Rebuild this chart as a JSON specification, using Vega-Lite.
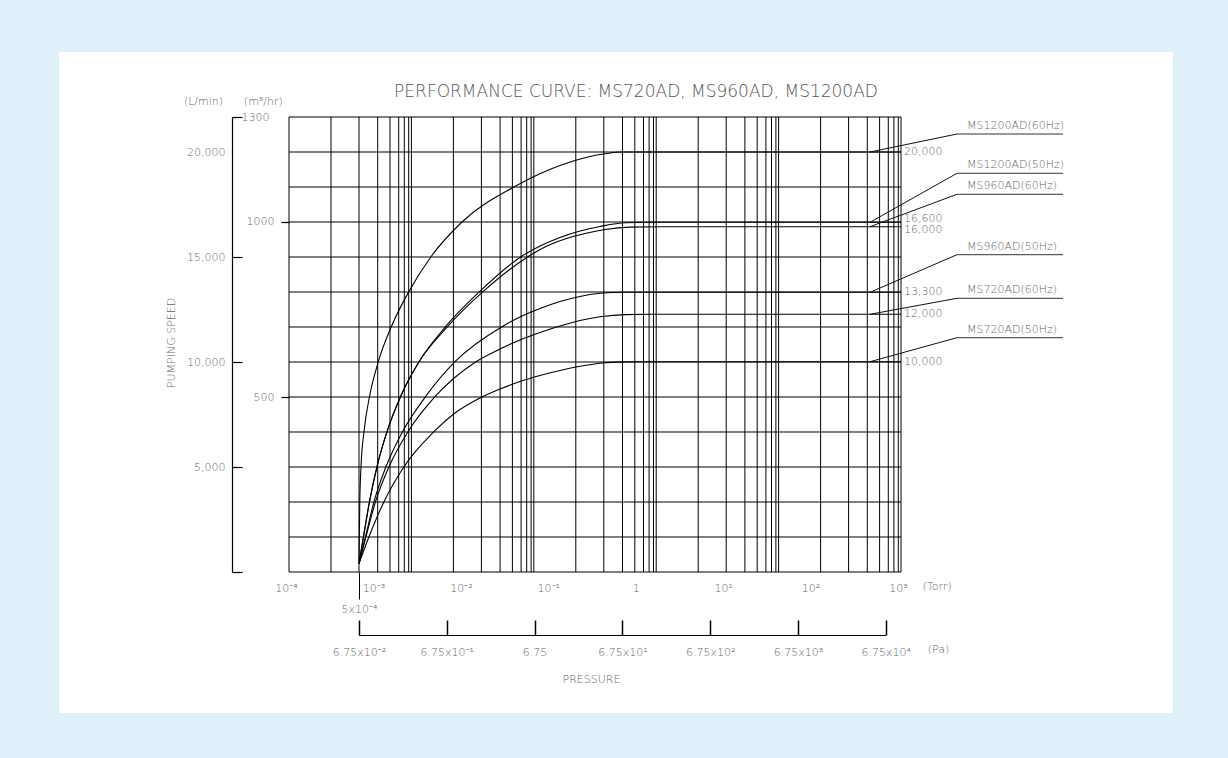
{
  "$schema": "https://vega.github.io/schema/vega-lite/v6.json",
  "width": 1114,
  "height": 661,
  "autosize": {"type": "none"},
  "padding": {"left": 59, "top": 52, "right": 55, "bottom": 45},
  "background": "#DFF0FA",
  "title": {"text": "PERFORMANCE CURVE: MS720AD, MS960AD, MS1200AD", "anchor": "middle", "frame": "group", "offset": 0, "dx": 20, "dy": 57, "baseline": "middle", "fontSize": 17, "font": "DejaVu Sans", "fontWeight": 200, "color": "#555555"},
  "config": {
    "view": {"fill": "white", "stroke": null},
    "font": "DejaVu Sans",
    "axis": {"labelFont": "DejaVu Sans", "labelFontSize": 11, "labelColor": "#666666", "labelFontWeight": 200, "titleFont": "DejaVu Sans", "titleFontSize": 11, "titleFontWeight": 200, "titleColor": "#666666", "domainColor": "#000000", "tickColor": "#000000", "grid": false, "labelOverlap": false, "labelFlush": false, "labelBound": false},
    "text": {"font": "DejaVu Sans", "fontSize": 11, "fontWeight": 200, "fill": "#666666"}
  },
  "datasets": {
    "gridH": [{"lpm": 0}, {"lpm": 1666.67}, {"lpm": 3333.33}, {"lpm": 5000}, {"lpm": 6666.67}, {"lpm": 8333.33}, {"lpm": 10000}, {"lpm": 11666.67}, {"lpm": 13333.33}, {"lpm": 15000}, {"lpm": 16666.67}, {"lpm": 18333.33}, {"lpm": 20000}, {"lpm": 21666.67}],
    "gridV": [
      {"logTorr": -4}, {"logTorr": -3.5196}, {"logTorr": -3.1993}, {"logTorr": -2.9855}, {"logTorr": -2.8448}, {"logTorr": -2.7453}, {"logTorr": -2.6812}, {"logTorr": -2.6309},
      {"logTorr": -2.6}, {"logTorr": -2.1196}, {"logTorr": -1.7993}, {"logTorr": -1.5855}, {"logTorr": -1.4448}, {"logTorr": -1.3453}, {"logTorr": -1.2812}, {"logTorr": -1.2309},
      {"logTorr": -1.2}, {"logTorr": -0.7196}, {"logTorr": -0.3993}, {"logTorr": -0.1855}, {"logTorr": -0.0448}, {"logTorr": 0.0547}, {"logTorr": 0.1188}, {"logTorr": 0.1691},
      {"logTorr": 0.2}, {"logTorr": 0.6804}, {"logTorr": 1.0007}, {"logTorr": 1.2145}, {"logTorr": 1.3552}, {"logTorr": 1.4547}, {"logTorr": 1.5188}, {"logTorr": 1.5691},
      {"logTorr": 1.6}, {"logTorr": 2.0804}, {"logTorr": 2.4007}, {"logTorr": 2.6145}, {"logTorr": 2.7552}, {"logTorr": 2.8547}, {"logTorr": 2.9188}, {"logTorr": 2.9691},
      {"logTorr": 3}
    ],
    "series": [
      {"series": "MS1200AD(60Hz)", "plateau": 20000, "valueLabel": "20,000", "legendY": 20857},
      {"series": "MS1200AD(50Hz)", "plateau": 16652, "valueLabel": "16,600", "legendY": 18986},
      {"series": "MS960AD(60Hz)", "plateau": 16443, "valueLabel": "16,000", "legendY": 17986},
      {"series": "MS960AD(50Hz)", "plateau": 13319, "valueLabel": "13,300", "legendY": 15110},
      {"series": "MS720AD(60Hz)", "plateau": 12271, "valueLabel": "12,000", "legendY": 13033},
      {"series": "MS720AD(50Hz)", "plateau": 10014, "valueLabel": "10,000", "legendY": 11157}
    ],
    "curves": [
      {"series": "MS1200AD(60Hz)", "logTorr": -3.1993, "lpm": 405},
      {"series": "MS1200AD(60Hz)", "logTorr": -3.1959, "lpm": 1681},
      {"series": "MS1200AD(60Hz)", "logTorr": -3.1902, "lpm": 3348},
      {"series": "MS1200AD(60Hz)", "logTorr": -3.1765, "lpm": 5014},
      {"series": "MS1200AD(60Hz)", "logTorr": -3.1422, "lpm": 6681},
      {"series": "MS1200AD(60Hz)", "logTorr": -3.0793, "lpm": 8348},
      {"series": "MS1200AD(60Hz)", "logTorr": -2.9786, "lpm": 10014},
      {"series": "MS1200AD(60Hz)", "logTorr": -2.8299, "lpm": 11681},
      {"series": "MS1200AD(60Hz)", "logTorr": -2.6297, "lpm": 13348},
      {"series": "MS1200AD(60Hz)", "logTorr": -2.3758, "lpm": 15014},
      {"series": "MS1200AD(60Hz)", "logTorr": -2.0212, "lpm": 16667},
      {"series": "MS1200AD(60Hz)", "logTorr": -1.4265, "lpm": 18333},
      {"series": "MS1200AD(60Hz)", "logTorr": -1.2435, "lpm": 18738},
      {"series": "MS1200AD(60Hz)", "logTorr": -1.0719, "lpm": 19071},
      {"series": "MS1200AD(60Hz)", "logTorr": -0.9003, "lpm": 19357},
      {"series": "MS1200AD(60Hz)", "logTorr": -0.7288, "lpm": 19595},
      {"series": "MS1200AD(60Hz)", "logTorr": -0.5572, "lpm": 19786},
      {"series": "MS1200AD(60Hz)", "logTorr": -0.3856, "lpm": 19914},
      {"series": "MS1200AD(60Hz)", "logTorr": -0.1912, "lpm": 20000},
      {"series": "MS1200AD(60Hz)", "logTorr": 3, "lpm": 20000},
      {"series": "MS1200AD(50Hz)", "logTorr": -3.1993, "lpm": 405},
      {"series": "MS1200AD(50Hz)", "logTorr": -3.1479, "lpm": 1681},
      {"series": "MS1200AD(50Hz)", "logTorr": -3.0793, "lpm": 3348},
      {"series": "MS1200AD(50Hz)", "logTorr": -2.9935, "lpm": 5014},
      {"series": "MS1200AD(50Hz)", "logTorr": -2.8791, "lpm": 6681},
      {"series": "MS1200AD(50Hz)", "logTorr": -2.7247, "lpm": 8348},
      {"series": "MS1200AD(50Hz)", "logTorr": -2.5131, "lpm": 10014},
      {"series": "MS1200AD(50Hz)", "logTorr": -2.21, "lpm": 11681},
      {"series": "MS1200AD(50Hz)", "logTorr": -1.8211, "lpm": 13348},
      {"series": "MS1200AD(50Hz)", "logTorr": -1.3464, "lpm": 15014},
      {"series": "MS1200AD(50Hz)", "logTorr": -1.1291, "lpm": 15524},
      {"series": "MS1200AD(50Hz)", "logTorr": -0.9003, "lpm": 15929},
      {"series": "MS1200AD(50Hz)", "logTorr": -0.6716, "lpm": 16238},
      {"series": "MS1200AD(50Hz)", "logTorr": -0.4428, "lpm": 16452},
      {"series": "MS1200AD(50Hz)", "logTorr": -0.1569, "lpm": 16629},
      {"series": "MS1200AD(50Hz)", "logTorr": 0.1291, "lpm": 16652},
      {"series": "MS1200AD(50Hz)", "logTorr": 3, "lpm": 16652},
      {"series": "MS960AD(60Hz)", "logTorr": -3.1993, "lpm": 405},
      {"series": "MS960AD(60Hz)", "logTorr": -3.1479, "lpm": 1681},
      {"series": "MS960AD(60Hz)", "logTorr": -3.0793, "lpm": 3348},
      {"series": "MS960AD(60Hz)", "logTorr": -2.9935, "lpm": 5014},
      {"series": "MS960AD(60Hz)", "logTorr": -2.8791, "lpm": 6681},
      {"series": "MS960AD(60Hz)", "logTorr": -2.7247, "lpm": 8348},
      {"series": "MS960AD(60Hz)", "logTorr": -2.5131, "lpm": 10014},
      {"series": "MS960AD(60Hz)", "logTorr": -2.1871, "lpm": 11681},
      {"series": "MS960AD(60Hz)", "logTorr": -1.7811, "lpm": 13348},
      {"series": "MS960AD(60Hz)", "logTorr": -1.2663, "lpm": 15014},
      {"series": "MS960AD(60Hz)", "logTorr": -1.0719, "lpm": 15476},
      {"series": "MS960AD(60Hz)", "logTorr": -0.8431, "lpm": 15857},
      {"series": "MS960AD(60Hz)", "logTorr": -0.6144, "lpm": 16119},
      {"series": "MS960AD(60Hz)", "logTorr": -0.3856, "lpm": 16310},
      {"series": "MS960AD(60Hz)", "logTorr": -0.0997, "lpm": 16424},
      {"series": "MS960AD(60Hz)", "logTorr": 0.2435, "lpm": 16443},
      {"series": "MS960AD(60Hz)", "logTorr": 3, "lpm": 16443},
      {"series": "MS960AD(50Hz)", "logTorr": -3.1993, "lpm": 405},
      {"series": "MS960AD(50Hz)", "logTorr": -3.125, "lpm": 1681},
      {"series": "MS960AD(50Hz)", "logTorr": -3.0278, "lpm": 3348},
      {"series": "MS960AD(50Hz)", "logTorr": -2.8905, "lpm": 5014},
      {"series": "MS960AD(50Hz)", "logTorr": -2.7018, "lpm": 6681},
      {"series": "MS960AD(50Hz)", "logTorr": -2.4387, "lpm": 8348},
      {"series": "MS960AD(50Hz)", "logTorr": -2.1013, "lpm": 10014},
      {"series": "MS960AD(50Hz)", "logTorr": -1.5637, "lpm": 11681},
      {"series": "MS960AD(50Hz)", "logTorr": -1.3578, "lpm": 12143},
      {"series": "MS960AD(50Hz)", "logTorr": -1.1291, "lpm": 12548},
      {"series": "MS960AD(50Hz)", "logTorr": -0.9003, "lpm": 12881},
      {"series": "MS960AD(50Hz)", "logTorr": -0.6716, "lpm": 13119},
      {"series": "MS960AD(50Hz)", "logTorr": -0.4428, "lpm": 13271},
      {"series": "MS960AD(50Hz)", "logTorr": -0.1569, "lpm": 13319},
      {"series": "MS960AD(50Hz)", "logTorr": 3, "lpm": 13319},
      {"series": "MS720AD(60Hz)", "logTorr": -3.1993, "lpm": 405},
      {"series": "MS720AD(60Hz)", "logTorr": -3.1193, "lpm": 1681},
      {"series": "MS720AD(60Hz)", "logTorr": -3.0106, "lpm": 3348},
      {"series": "MS720AD(60Hz)", "logTorr": -2.8562, "lpm": 5014},
      {"series": "MS720AD(60Hz)", "logTorr": -2.6389, "lpm": 6681},
      {"series": "MS720AD(60Hz)", "logTorr": -2.3301, "lpm": 8348},
      {"series": "MS720AD(60Hz)", "logTorr": -1.8611, "lpm": 10014},
      {"series": "MS720AD(60Hz)", "logTorr": -1.5866, "lpm": 10619},
      {"series": "MS720AD(60Hz)", "logTorr": -1.3578, "lpm": 11048},
      {"series": "MS720AD(60Hz)", "logTorr": -1.1291, "lpm": 11405},
      {"series": "MS720AD(60Hz)", "logTorr": -0.9003, "lpm": 11714},
      {"series": "MS720AD(60Hz)", "logTorr": -0.6716, "lpm": 11976},
      {"series": "MS720AD(60Hz)", "logTorr": -0.4428, "lpm": 12152},
      {"series": "MS720AD(60Hz)", "logTorr": -0.1569, "lpm": 12257},
      {"series": "MS720AD(60Hz)", "logTorr": 0.1291, "lpm": 12271},
      {"series": "MS720AD(60Hz)", "logTorr": 3, "lpm": 12271},
      {"series": "MS720AD(50Hz)", "logTorr": -3.1993, "lpm": 405},
      {"series": "MS720AD(50Hz)", "logTorr": -3.085, "lpm": 1681},
      {"series": "MS720AD(50Hz)", "logTorr": -2.9134, "lpm": 3348},
      {"series": "MS720AD(50Hz)", "logTorr": -2.6846, "lpm": 5014},
      {"series": "MS720AD(50Hz)", "logTorr": -2.3415, "lpm": 6681},
      {"series": "MS720AD(50Hz)", "logTorr": -2.1013, "lpm": 7571},
      {"series": "MS720AD(50Hz)", "logTorr": -1.8154, "lpm": 8286},
      {"series": "MS720AD(50Hz)", "logTorr": -1.5866, "lpm": 8714},
      {"series": "MS720AD(50Hz)", "logTorr": -1.3578, "lpm": 9071},
      {"series": "MS720AD(50Hz)", "logTorr": -1.1291, "lpm": 9357},
      {"series": "MS720AD(50Hz)", "logTorr": -0.9003, "lpm": 9595},
      {"series": "MS720AD(50Hz)", "logTorr": -0.6716, "lpm": 9795},
      {"series": "MS720AD(50Hz)", "logTorr": -0.4428, "lpm": 9943},
      {"series": "MS720AD(50Hz)", "logTorr": -0.1569, "lpm": 10005},
      {"series": "MS720AD(50Hz)", "logTorr": 0.1291, "lpm": 10014},
      {"series": "MS720AD(50Hz)", "logTorr": 3, "lpm": 10014}
    ],
    "torrTicks": [{"logTorr": -4}, {"logTorr": -3}, {"logTorr": -2}, {"logTorr": -1}, {"logTorr": 0}, {"logTorr": 1}, {"logTorr": 2}, {"logTorr": 3}],
    "paTicks": [{"pa": 0.0675}, {"pa": 0.675}, {"pa": 6.75}, {"pa": 67.5}, {"pa": 675}, {"pa": 6750}, {"pa": 67500}]
  },
  "resolve": {"scale": {"x": "independent"}, "axis": {"x": "independent", "y": "independent"}},
  "layer": [
    {
      "data": {"name": "gridH"},
      "mark": {"type": "rule", "color": "#000000", "strokeWidth": 1},
      "encoding": {
        "x": {"datum": -4, "type": "quantitative", "scale": {"domain": [-4, 3], "range": [230, 842], "nice": false, "zero": false}, "axis": null},
        "x2": {"datum": 3},
        "y": {"field": "lpm", "type": "quantitative", "scale": {"domain": [0, 21666.67], "range": [520, 65], "nice": false, "zero": false}, "axis": null}
      }
    },
    {
      "data": {"name": "gridV"},
      "mark": {"type": "rule", "color": "#000000", "strokeWidth": 1},
      "encoding": {
        "x": {"field": "logTorr", "type": "quantitative", "scale": {"domain": [-4, 3], "range": [230, 842], "nice": false, "zero": false}, "axis": null},
        "y": {"datum": 0, "type": "quantitative", "scale": {"domain": [0, 21666.67], "range": [520, 65], "nice": false, "zero": false}, "axis": null},
        "y2": {"datum": 21666.67}
      }
    },
    {
      "data": {"name": "curves"},
      "mark": {"type": "line", "interpolate": "monotone", "color": "#000000", "strokeWidth": 1.1},
      "encoding": {
        "x": {"field": "logTorr", "type": "quantitative", "scale": {"domain": [-4, 3], "range": [230, 842], "nice": false, "zero": false}, "axis": null},
        "y": {"field": "lpm", "type": "quantitative", "scale": {"domain": [0, 21666.67], "range": [520, 65], "nice": false, "zero": false}, "axis": null},
        "detail": {"field": "series"}
      }
    },
    {
      "data": {"name": "series"},
      "transform": [{"filter": "datum.valueLabel != '16,600' && datum.valueLabel != '16,000'"}],
      "mark": {"type": "text", "align": "left", "baseline": "middle", "dx": 3},
      "encoding": {
        "x": {"datum": 3, "type": "quantitative", "scale": {"domain": [-4, 3], "range": [230, 842], "nice": false, "zero": false}, "axis": null},
        "y": {"field": "plateau", "type": "quantitative", "scale": {"domain": [0, 21666.67], "range": [520, 65], "nice": false, "zero": false}, "axis": null},
        "text": {"field": "valueLabel"}
      }
    },
    {
      "data": {"name": "series"},
      "transform": [{"filter": "datum.valueLabel == '16,600'"}],
      "mark": {"type": "text", "align": "left", "baseline": "middle", "dx": 3, "dy": -3.5},
      "encoding": {
        "x": {"datum": 3, "type": "quantitative", "scale": {"domain": [-4, 3], "range": [230, 842], "nice": false, "zero": false}, "axis": null},
        "y": {"field": "plateau", "type": "quantitative", "scale": {"domain": [0, 21666.67], "range": [520, 65], "nice": false, "zero": false}, "axis": null},
        "text": {"field": "valueLabel"}
      }
    },
    {
      "data": {"name": "series"},
      "transform": [{"filter": "datum.valueLabel == '16,000'"}],
      "mark": {"type": "text", "align": "left", "baseline": "middle", "dx": 3, "dy": 3.5},
      "encoding": {
        "x": {"datum": 3, "type": "quantitative", "scale": {"domain": [-4, 3], "range": [230, 842], "nice": false, "zero": false}, "axis": null},
        "y": {"field": "plateau", "type": "quantitative", "scale": {"domain": [0, 21666.67], "range": [520, 65], "nice": false, "zero": false}, "axis": null},
        "text": {"field": "valueLabel"}
      }
    },
    {
      "data": {"name": "series"},
      "mark": {"type": "rule", "color": "#111111", "strokeWidth": 1},
      "encoding": {
        "x": {"datum": 2.6454, "type": "quantitative", "scale": {"domain": [-4, 3], "range": [230, 842], "nice": false, "zero": false}, "axis": null},
        "x2": {"datum": 3.6405},
        "y": {"field": "plateau", "type": "quantitative", "scale": {"domain": [0, 21666.67], "range": [520, 65], "nice": false, "zero": false}, "axis": null},
        "y2": {"field": "legendY"}
      }
    },
    {
      "data": {"name": "series"},
      "mark": {"type": "rule", "color": "#333333", "strokeWidth": 1},
      "encoding": {
        "x": {"datum": 3.6405, "type": "quantitative", "scale": {"domain": [-4, 3], "range": [230, 842], "nice": false, "zero": false}, "axis": null},
        "x2": {"datum": 4.8529},
        "y": {"field": "legendY", "type": "quantitative", "scale": {"domain": [0, 21666.67], "range": [520, 65], "nice": false, "zero": false}, "axis": null}
      }
    },
    {
      "data": {"name": "series"},
      "mark": {"type": "text", "align": "left", "baseline": "middle", "dy": -8},
      "encoding": {
        "x": {"datum": 3.7549, "type": "quantitative", "scale": {"domain": [-4, 3], "range": [230, 842], "nice": false, "zero": false}, "axis": null},
        "y": {"field": "legendY", "type": "quantitative", "scale": {"domain": [0, 21666.67], "range": [520, 65], "nice": false, "zero": false}, "axis": null},
        "text": {"field": "series"}
      }
    },
    {
      "data": {"name": "torrTicks"},
      "mark": {"type": "point", "opacity": 0},
      "encoding": {
        "x": {"field": "logTorr", "type": "quantitative", "scale": {"domain": [-4, 3], "range": [230, 842], "nice": false, "zero": false},
          "axis": {"orient": "bottom", "offset": -141, "values": [-4, -3, -2, -1, 0, 1, 2, 3], "domain": false, "ticks": false, "tickSize": 0, "labelPadding": 16, "labelBaseline": "middle", "labelOffset": -3,
            "labelExpr": "['10⁻⁴','10⁻³','10⁻²','10⁻¹','1','10¹','10²','10³'][round(datum.value)+4]",
            "title": "(Torr)", "titleX": 877.7, "titleY": 14, "titleAlign": "center", "titleBaseline": "middle", "titleAngle": 0}}
      }
    },
    {
      "data": {"name": "torrTicks"},
      "mark": {"type": "point", "opacity": 0},
      "encoding": {
        "x": {"field": "logTorr", "type": "quantitative", "scale": {"domain": [-4, 3], "range": [230, 842], "nice": false, "zero": false},
          "axis": {"orient": "bottom", "offset": -141, "values": [-3.1993], "domain": false, "ticks": true, "tickSize": 27, "tickWidth": 1, "labelPadding": 10, "labelBaseline": "middle",
            "labelExpr": "'5x10⁻⁴'",
            "title": "PRESSURE", "titleX": 532, "titleY": 107, "titleAlign": "center", "titleBaseline": "middle", "titleAngle": 0}}
      }
    },
    {
      "data": {"name": "paTicks"},
      "mark": {"type": "point", "opacity": 0},
      "encoding": {
        "x": {"field": "pa", "type": "quantitative", "scale": {"type": "log", "domain": [0.0675, 67500], "range": [300, 826.7], "nice": false, "zero": false},
          "axis": {"orient": "top", "offset": -583, "values": [0.0675, 0.675, 6.75, 67.5, 675, 6750, 67500], "domain": true, "domainWidth": 1, "ticks": true, "tickSize": 15, "tickWidth": 1.5, "labels": false, "title": null}}
      }
    },
    {
      "data": {"name": "paTicks"},
      "mark": {"type": "point", "opacity": 0},
      "encoding": {
        "x": {"field": "pa", "type": "quantitative", "scale": {"type": "log", "domain": [0.0675, 67500], "range": [300, 826.7], "nice": false, "zero": false},
          "axis": {"orient": "bottom", "offset": -78, "values": [0.0675, 0.675, 6.75, 67.5, 675, 6750, 67500], "domain": false, "ticks": false, "tickSize": 0, "labelPadding": 17, "labelBaseline": "middle",
            "labelExpr": "datum.value < 0.1 ? '6.75x10⁻²' : datum.value < 1 ? '6.75x10⁻¹' : datum.value < 10 ? '6.75' : datum.value < 100 ? '6.75x10¹' : datum.value < 1000 ? '6.75x10²' : datum.value < 10000 ? '6.75x10³' : '6.75x10⁴'",
            "title": "(Pa)", "titleX": 879, "titleY": 14.3, "titleAlign": "center", "titleBaseline": "middle", "titleAngle": 0}}
      }
    },
    {
      "data": {"name": "series"},
      "mark": {"type": "point", "opacity": 0},
      "encoding": {
        "y": {"field": "plateau", "type": "quantitative", "scale": {"domain": [0, 21666.67], "range": [520, 65], "nice": false, "zero": false},
          "axis": {"orient": "right", "offset": -941, "values": [0, 5000, 10000, 15000, 21666.67], "domain": true, "domainWidth": 1.2, "ticks": true, "tickSize": 10, "tickWidth": 1.2, "labelPadding": -1, "labelBaseline": "middle",
            "labelExpr": "datum.value > 21000 ? '1300' : ''",
            "title": "PUMPING SPEED", "titleX": -60.3, "titleY": 290.5, "titleAngle": 270, "titleAlign": "center", "titleBaseline": "middle"}}
      }
    },
    {
      "data": {"name": "series"},
      "mark": {"type": "point", "opacity": 0},
      "encoding": {
        "y": {"field": "plateau", "type": "quantitative", "scale": {"domain": [0, 21666.67], "range": [520, 65], "nice": false, "zero": false},
          "axis": {"orient": "left", "offset": -173, "values": [5000, 10000, 15000, 20000], "domain": false, "ticks": false, "tickSize": 0, "labelPadding": 7, "labelBaseline": "middle",
            "labelExpr": "format(datum.value, ',')",
            "title": "(L/min)", "titleX": -29, "titleY": 49.7, "titleAngle": 0, "titleAlign": "center", "titleBaseline": "middle"}}
      }
    },
    {
      "data": {"name": "series"},
      "mark": {"type": "point", "opacity": 0},
      "encoding": {
        "y": {"field": "plateau", "type": "quantitative", "scale": {"domain": [0, 21666.67], "range": [520, 65], "nice": false, "zero": false},
          "axis": {"orient": "left", "offset": -230, "values": [8333.33, 16666.67], "domain": false, "ticks": true, "tickSize": 8, "tickWidth": 1.2, "labelPadding": 7, "labelBaseline": "middle",
            "labelExpr": "datum.value > 12000 ? '1000' : '500'",
            "title": "(m³/hr)", "titleX": -26.2, "titleY": 49.7, "titleAngle": 0, "titleAlign": "center", "titleBaseline": "middle"}}
      }
    }
  ]
}
